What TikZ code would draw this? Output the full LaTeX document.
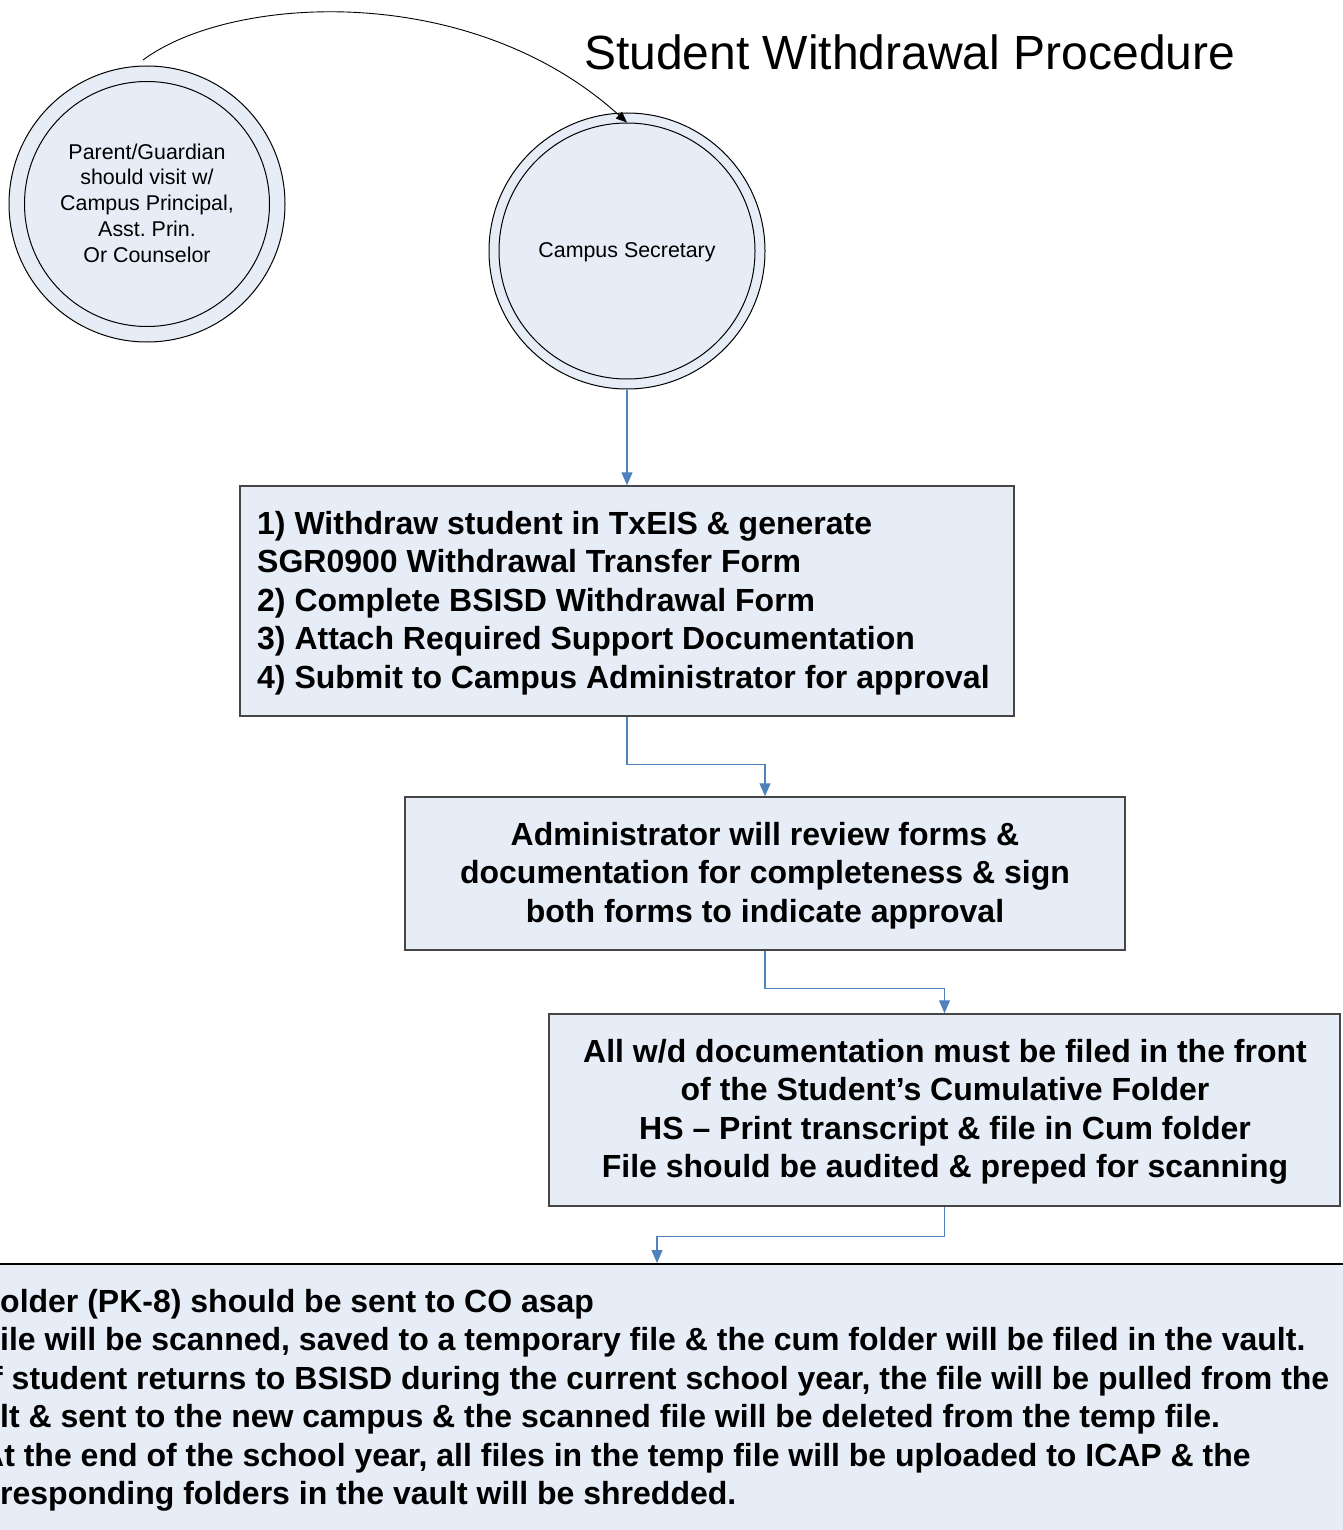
\documentclass[tikz,border=0pt]{standalone}
\usepackage{fontspec}
\setmainfont{Liberation Sans}
\usetikzlibrary{arrows.meta}
\definecolor{fillc}{RGB}{231,237,247}
\definecolor{connc}{RGB}{79,129,189}
\definecolor{boxc}{RGB}{70,70,70}
\frenchspacing
\tikzset{
  circ/.style={circle, draw=black, line width=1pt, fill=fillc, inner sep=0pt},
  circtext/.style={font=\fontsize{21.4}{25.7}\selectfont, align=center, inner sep=0pt},
  box/.style={rectangle, draw=boxc, line width=1.5pt, fill=fillc, inner sep=0pt},
  boxtext/.style={font=\fontsize{32}{38.5}\selectfont\bfseries, inner sep=0pt},
  conn/.style={draw=connc, line width=1.2pt, -{Triangle[length=13pt,width=11pt]}},
  curvearrow/.style={draw=black, line width=0.9pt, -{Triangle[length=11pt,width=9pt]}}
}
\begin{document}
\begin{tikzpicture}[x=1pt,y=-1pt]
\useasboundingbox (0,0) rectangle (1342,1530);
% title
\node[anchor=base west, font=\fontsize{48}{58}\selectfont, inner sep=0pt] (title) at (584,70) {Student Withdrawal Procedure};
% circles
\node[circ, minimum size=276pt] (par) at (147,204) {};
\node[circ, minimum size=245pt] (parin) at (147,204) {};
\node[circtext] (partext) at (147,203) {Parent/Guardian\\should visit w/\\Campus Principal,\\Asst. Prin.\\Or Counselor};
\node[circ, minimum size=276pt] (sec) at (627,251) {};
\node[circ, minimum size=256pt] (secin) at (627,251) {};
\node[circtext] (sectext) at (627,252) {Campus Secretary};
% boxes
\node[box, minimum width=774pt, minimum height=230pt] (b1) at (627,601) {};
\node[boxtext, anchor=north west, align=left] (t1) at (257,507) {\strut 1) Withdraw student in TxEIS \& generate\\SGR0900 Withdrawal Transfer Form\\2) Complete BSISD Withdrawal Form\\3) Attach Required Support Documentation\\4) Submit to Campus Administrator for approval};
\node[box, minimum width=720pt, minimum height=153pt] (b2) at (765,873.5) {};
\node[boxtext, anchor=north, align=center] (t2) at (765,818) {\strut Administrator will review forms \&\\documentation for completeness \& sign\\both forms to indicate approval};
\node[box, minimum width=791pt, minimum height=192pt] (b3) at (944.5,1110) {};
\node[boxtext, anchor=north, align=center] (t3) at (945,1035) {\strut All w/d documentation must be filed in the front\\of the Student’s Cumulative Folder\\HS – Print transcript \& file in Cum folder\\File should be audited \& preped for scanning};
\node[box, draw=black, minimum width=1400pt, minimum height=300pt, anchor=north] (b4) at (671,1263) {};
\node[boxtext, anchor=north west, align=left] (t4) at (0,1285) {\strut older (PK-8) should be sent to CO asap\\ile will be scanned, saved to a temporary file \& the cum folder will be filed in the vault.\\\hspace*{-8pt}f student returns to BSISD during the current school year, the file will be pulled from the\\lt \& sent to the new campus \& the scanned file will be deleted from the temp file.\\\hspace*{-19pt}At the end of the school year, all files in the temp file will be uploaded to ICAP \& the\\responding folders in the vault will be shredded.};
% connectors
\coordinate (cs) at (143,60);
\draw[curvearrow] (cs) .. controls (230,-5) and (470,-20) .. (secin.north);
\draw[conn] (sec.south) -- (b1.north);
\draw[conn] (b1.south) -- ++(0,48) -| (b2.north);
\draw[conn] (b2.south) -- ++(0,38) -| (b3.north);
\coordinate (b4in) at (657,1263);
\draw[conn] (b3.south) -- ++(0,30) -| (b4in);
\end{tikzpicture}
\end{document}
